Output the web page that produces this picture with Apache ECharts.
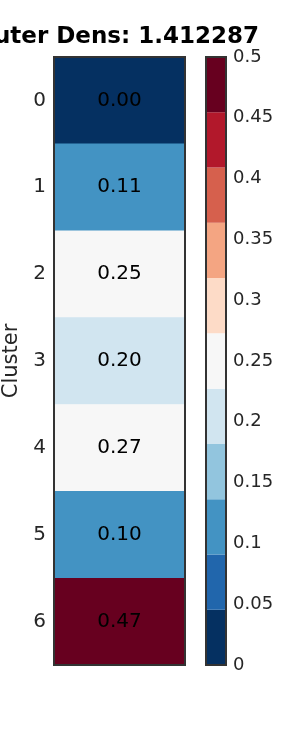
<!DOCTYPE html>
<html>
<head>
<meta charset="utf-8">
<script src="https://cdn.jsdelivr.net/npm/echarts@6/dist/echarts.min.js"></script>
<style>
  html, body { margin: 0; padding: 0; background: #fff; }
  #chart { width: 300px; height: 750px; }
</style>
</head>
<body>
<div id="chart"></div>
<script>
  // data
  const clusters = ['0', '1', '2', '3', '4', '5', '6'];
  const density = [0.00, 0.11, 0.25, 0.20, 0.27, 0.10, 0.47];
  // title is clipped on the left in the original; only "uter Dens: 1.412287" is visible
  const titleText = 'Outer Dens: 1.412287';
  // colour bar: 11 equal bands from 0 to 0.5 (RdBu_r)
  const bandColors = ['#053061', '#2166ac', '#4393c3', '#92c5de', '#d1e5f0', '#f7f7f7',
                      '#fddbc7', '#f4a582', '#d6604d', '#b2182b', '#67001f'];
  const cbMin = 0, cbMax = 0.5, cbStep = 0.05;

  const font = 'DejaVu Sans';
  const bandSize = (cbMax - cbMin) / bandColors.length;
  const pieces = bandColors.map((c, i) => ({
    gte: cbMin + i * bandSize,
    lt: i === bandColors.length - 1 ? cbMax + 1 : cbMin + (i + 1) * bandSize,
    color: c
  }));

  let chartDom = document.getElementById('chart');
  let myChart = echarts.init(chartDom);
  let option;

  const tickStyle = { inside: true, length: 4, alignWithLabel: true, lineStyle: { color: '#333', width: 1.5 } };
  const lineStyle = { lineStyle: { color: '#333', width: 2 } };

  option = {
    animation: false,
    textStyle: { fontFamily: font },
    graphic: [{
      type: 'text',
      x: 259, y: 37,
      style: {
        text: titleText,
        textAlign: 'right',
        textVerticalAlign: 'middle',
        font: 'bold 23px "DejaVu Sans"',
        fill: '#000'
      }
    }],
    grid: [
      { left: 54, top: 57, width: 131, height: 608, show: true, z: 10, borderColor: '#333', borderWidth: 2, backgroundColor: 'transparent' },
      { left: 206, top: 57, width: 20, height: 608, show: true, z: 10, borderColor: '#333', borderWidth: 2, backgroundColor: 'transparent' }
    ],
    xAxis: [
      { type: 'category', gridIndex: 0, data: [''], position: 'bottom', z: 10,
        axisLine: lineStyle, axisTick: tickStyle, axisLabel: { show: false } },
      { type: 'category', gridIndex: 0, data: [''], position: 'top', z: 10,
        axisLine: lineStyle, axisTick: tickStyle, axisLabel: { show: false } },
      { type: 'category', gridIndex: 1, data: [''],
        axisLine: { show: false }, axisTick: { show: false }, axisLabel: { show: false } }
    ],
    yAxis: [
      { type: 'category', gridIndex: 0, data: clusters, inverse: true, position: 'left', z: 10,
        name: 'Cluster', nameLocation: 'middle', nameGap: 32, nameRotate: 90,
        nameTextStyle: { fontSize: 21, color: '#262626', fontFamily: font },
        axisLine: lineStyle, axisTick: tickStyle,
        axisLabel: { fontSize: 20, color: '#262626', margin: 8, fontFamily: font } },
      { type: 'category', gridIndex: 0, data: clusters, inverse: true, position: 'right', z: 10,
        axisLine: lineStyle, axisTick: tickStyle, axisLabel: { show: false } },
      { type: 'value', gridIndex: 1, min: cbMin, max: cbMax, interval: cbStep, position: 'right', z: 10,
        splitLine: { show: false },
        axisLine: { show: true, lineStyle: { color: '#333', width: 2 } },
        axisTick: { inside: true, length: 4, lineStyle: { color: '#333', width: 1.5 } },
        axisLabel: { fontSize: 18, color: '#262626', margin: 7, fontFamily: font } }
    ],
    visualMap: {
      type: 'piecewise',
      show: false,
      seriesIndex: 0,
      dimension: 2,
      pieces: pieces
    },
    series: [
      {
        type: 'heatmap',
        xAxisIndex: 0, yAxisIndex: 0,
        data: density.map((v, i) => [0, i, v]),
        label: {
          show: true,
          fontSize: 20,
          color: '#000',
          fontFamily: font,
          formatter: p => p.value[2].toFixed(2)
        },
        itemStyle: { borderWidth: 0 }
      }
    ].concat(bandColors.map(c => ({
      type: 'bar',
      xAxisIndex: 2, yAxisIndex: 2,
      stack: 'cb',
      barWidth: '100%',
      data: [bandSize],
      itemStyle: { color: c },
      silent: true
    })))
  };
  option && myChart.setOption(option);
</script>
</body>
</html>
